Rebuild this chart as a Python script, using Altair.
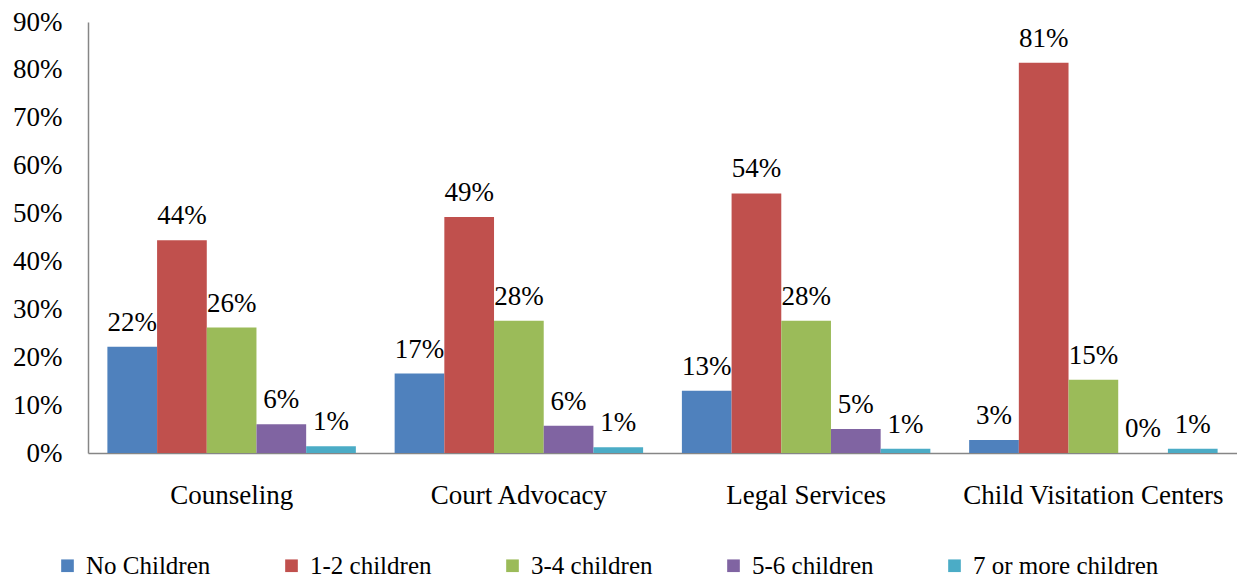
import altair as alt
import pandas as pd

categories = ["Counseling", "Court Advocacy", "Legal Services", "Child Visitation Centers"]
series = ["No Children", "1-2 children", "3-4 children", "5-6 children", "7 or more children"]
colors = ["#4F81BD", "#C0504D", "#9BBB59", "#8064A2", "#4BACC6"]

no_children = [0.222, 0.166, 0.130, 0.027]
one_two = [0.444, 0.493, 0.542, 0.8149]
three_four = [0.262, 0.276, 0.276, 0.153]
five_six = [0.060, 0.057, 0.050, 0.000]
seven_plus = [0.014, 0.012, 0.009, 0.009]

y_ticks = [0, 0.1, 0.2, 0.3, 0.4, 0.5, 0.6, 0.7, 0.8, 0.9]

rows = []
for s, vals in zip(series, [no_children, one_two, three_four, five_six, seven_plus]):
    for c, v in zip(categories, vals):
        rows.append({"category": c, "series": s, "value": v})
df = pd.DataFrame(rows)

FONT = "Liberation Serif"
FS = 27

base = alt.Chart(df).encode(
    x=alt.X("category:N", sort=categories, title=None,
            scale=alt.Scale(paddingInner=0.135, paddingOuter=0.0675),
            axis=alt.Axis(labelAngle=0, labelFontSize=FS, labelFont=FONT, labelColor="black",
                          ticks=False, labelPadding=29, labelLimit=400,
                          domainColor="#868686", domainWidth=1.5)),
    xOffset=alt.XOffset("series:N", sort=series),
    y=alt.Y("value:Q", title=None,
            scale=alt.Scale(domain=[0, 0.9], nice=False),
            axis=alt.Axis(values=y_ticks, format=".0%", labelFontSize=FS, labelFont=FONT,
                          labelColor="black", ticks=False, grid=False, labelPadding=26,
                          domainColor="#868686", domainWidth=1.5)),
)

bars = base.mark_bar().encode(
    color=alt.Color("series:N", sort=series,
                    scale=alt.Scale(domain=series, range=colors),
                    legend=alt.Legend(title=None, orient="none", legendX=-33, legendY=531,
                                      direction="horizontal", columns=5, symbolType="square",
                                      symbolSize=160, symbolStrokeWidth=0, labelFontSize=25,
                                      labelFont=FONT, labelColor="black", labelOffset=6,
                                      columnPadding=68, labelLimit=400))
)

labels = base.mark_text(baseline="alphabetic", dy=-16, fontSize=FS, font=FONT, color="black").encode(
    text=alt.Text("value:Q", format=".0%")
)

chart = (bars + labels).properties(
    width=1149, height=431,
    autosize=alt.AutoSizeParams(type="none"),
    padding={"left": 80, "top": 14, "right": 0, "bottom": 125},
).configure_view(stroke=None)

chart.save("out.html", embed_options={"renderer": "svg", "actions": False})
